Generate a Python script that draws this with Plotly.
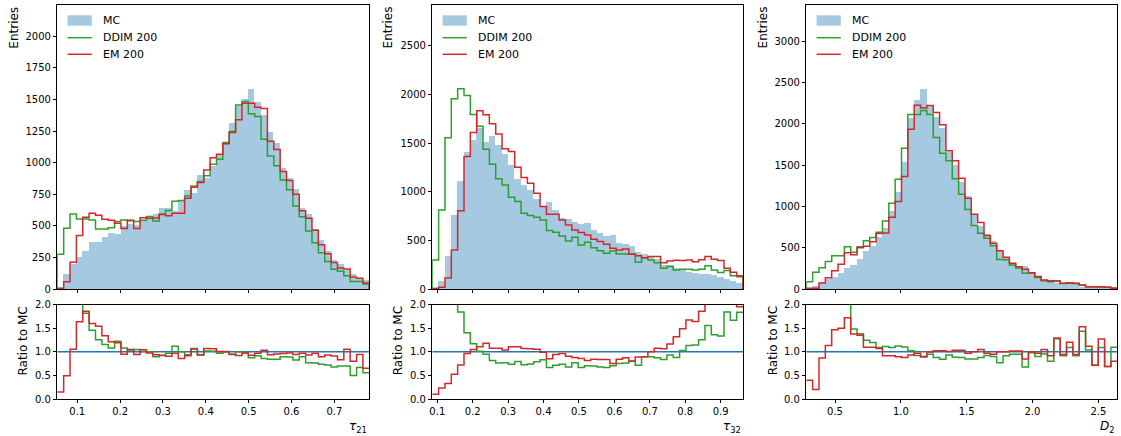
import numpy as np
import plotly.graph_objects as go

W, H = 1121, 436

# ---- histogram data: 49 equal-width bins per observable ----
tau21_range = (0.0534, 0.7815)
tau32_range = (0.0859, 0.9630)
d2_range = (0.282, 2.644)

mc_tau21 = [20, 118, 200, 258, 305, 375, 378, 412, 448, 436, 505, 520, 510, 540, 575,
            600, 640, 640, 620, 700, 785, 760, 905, 880, 975, 1060, 1150, 1315, 1455, 1510,
            1585, 1485, 1384, 1247, 1160, 964, 882, 793, 640, 600, 480, 390, 300, 230, 200,
            150, 120, 90, 72]
ddim_tau21 = [275, 481, 594, 555, 555, 547, 476, 476, 485, 534, 547, 540, 535, 545, 575,
              538, 594, 621, 695, 700, 737, 816, 851, 896, 988, 1028, 1160, 1247, 1456, 1485,
              1387, 1366, 1186, 1054, 975, 864, 785, 658, 573, 460, 367, 288, 217, 156, 140,
              105, 60, 60, 40]
em_tau21 = [3, 58, 211, 423, 568, 600, 584, 552, 545, 520, 480, 545, 480, 565, 560,
            562, 590, 580, 600, 600, 718, 806, 843, 943, 1040, 1067, 1150, 1240, 1340, 1470,
            1470, 1440, 1430, 1170, 1105, 930, 860, 750, 620, 560, 465, 350, 280, 210, 166,
            158, 96, 85, 47]

mc_tau32 = [20, 82, 343, 761, 1115, 1413, 1533, 1653, 1516, 1574, 1482, 1389, 1276, 1132, 1070,
            1019, 933, 854, 899, 813, 737, 727, 690, 676, 680, 607, 580, 549, 556, 477,
            470, 446, 384, 360, 333, 309, 254, 247, 223, 196, 178, 171, 161, 154, 144,
            127, 103, 82, 69]
ddim_tau32 = [298, 813, 1554, 1955, 2058, 1989, 1794, 1674, 1437, 1283, 1132, 1070, 943, 899, 779,
              755, 737, 710, 600, 583, 545, 494, 532, 453, 480, 425, 394, 367, 391, 360,
              360, 360, 274, 322, 298, 271, 213, 230, 196, 202, 202, 196, 202, 240, 196,
              170, 190, 137, 127]
em_tau32 = [2, 19, 113, 401, 803, 1362, 1609, 1832, 1790, 1698, 1592, 1441, 1413, 1252, 1146,
            1087, 984, 847, 768, 768, 710, 659, 607, 580, 556, 511, 487, 460, 418, 401,
            412, 357, 343, 322, 333, 333, 271, 288, 295, 292, 298, 281, 300, 333, 305,
            292, 213, 171, 135]

mc_d2 = [20, 45, 85, 120, 150, 200, 255, 300, 370, 470, 520, 630, 740, 950, 1181,
         1545, 2070, 2293, 2426, 2232, 2091, 1949, 1666, 1504, 1302, 1134, 906, 767, 667, 583,
         465, 384, 305, 266, 281, 198, 155, 104, 110, 75, 73, 64, 73, 32, 25,
         39, 22, 29, 10]
ddim_d2 = [89, 202, 259, 332, 404, 404, 513, 445, 513, 586, 623, 687, 825, 1039, 1330,
           1707, 2115, 2115, 2163, 2115, 1836, 1646, 1553, 1335, 1148, 964, 770, 675, 614, 525,
           358, 353, 290, 253, 191, 194, 140, 99, 88, 96, 67, 70, 67, 46, 26,
           28, 24, 20, 11]
em_d2 = [8, 9, 74, 136, 220, 300, 439, 414, 500, 517, 572, 674, 680, 870, 1060,
         1363, 1937, 2228, 2192, 2224, 2139, 1990, 1674, 1553, 1343, 1100, 906, 805, 647, 554,
         465, 384, 311, 271, 239, 198, 150, 109, 101, 97, 69, 77, 69, 49, 28,
         28, 28, 20, 8]

series_names = ["MC", "DDIM 200", "EM 200"]
x_titles = ["<i>τ</i><sub>21</sub>", "<i>τ</i><sub>32</sub>", "<i>D</i><sub>2</sub>"]
x_ticks = [[0.1, 0.2, 0.3, 0.4, 0.5, 0.6, 0.7],
           [0.1, 0.2, 0.3, 0.4, 0.5, 0.6, 0.7, 0.8, 0.9],
           [0.5, 1.0, 1.5, 2.0, 2.5]]
y_ticks_main = [[0, 250, 500, 750, 1000, 1250, 1500, 1750, 2000],
                [0, 500, 1000, 1500, 2000, 2500],
                [0, 500, 1000, 1500, 2000, 2500, 3000]]
y_ticks_ratio = [0.0, 0.5, 1.0, 1.5, 2.0]

panels = [
    dict(rng=tau21_range, mc=mc_tau21, ddim=ddim_tau21, em=em_tau21, ymax=2251),
    dict(rng=tau32_range, mc=mc_tau32, ddim=ddim_tau32, em=em_tau32, ymax=2922),
    dict(rng=d2_range, mc=mc_d2, ddim=ddim_d2, em=em_d2, ymax=3445),
]

# ---- styling ----
FONT = "DejaVu Sans"
MC_FILL = "rgba(31,119,180,0.4)"
GREEN = "#2ca02c"
RED = "#d62728"
BLUE = "#1f77b4"
LW = 1.5

# axes placement in pixels
lefts = [57.3, 432.3, 806.3]
rights = [369.3, 743.0, 1117.3]
main_top, main_bot = 4.7, 289.0
rat_top, rat_bot = 304.7, 399.0


def px_x(p):
    return p / W


def px_y(p):
    return 1 - p / H


def step_outline(edges, counts):
    xs = [edges[0]] + list(edges[:-1]) + [edges[-1]]
    ys = [0] + list(counts) + [0]
    return xs, ys


def step_ratio(edges, r):
    xs = list(edges[:-1]) + [edges[-1]]
    ys = list(r) + [r[-1]]
    return xs, ys


fig = go.Figure()
layout = dict(
    width=W, height=H,
    margin=dict(l=0, r=0, t=0, b=0),
    paper_bgcolor="white", plot_bgcolor="white",
    showlegend=False, bargap=0, barmode="overlay",
    font=dict(family=FONT, size=10, color="black"),
)
shapes = []
annotations = []

axis_common = dict(
    showline=True, mirror=True, linecolor="black", linewidth=0.8,
    ticks="outside", ticklen=3.5, tickwidth=0.8, tickcolor="black",
    showgrid=False, zeroline=False, automargin=False,
    tickfont=dict(family=FONT, size=10, color="black"),
)

for k, p in enumerate(panels):
    edges = np.linspace(p["rng"][0], p["rng"][1], len(p["mc"]) + 1)
    centers = 0.5 * (edges[:-1] + edges[1:])
    width = edges[1] - edges[0]
    mc = np.array(p["mc"], dtype=float)
    ddim = np.array(p["ddim"], dtype=float)
    em = np.array(p["em"], dtype=float)

    im, ir = 2 * k + 1, 2 * k + 2
    xm, ym = f"x{im}", f"y{im}"
    xr, yr = f"x{ir}", f"y{ir}"

    # main panel: MC filled histogram + generated step histograms
    fig.add_trace(go.Bar(x=centers, y=mc, width=width, marker=dict(color=MC_FILL, line=dict(width=0)),
                         name=series_names[0], xaxis=xm, yaxis=ym))
    gx, gy = step_outline(edges, ddim)
    fig.add_trace(go.Scatter(x=gx, y=gy, mode="lines", line=dict(color=GREEN, width=LW, shape="hv"),
                             name=series_names[1], xaxis=xm, yaxis=ym))
    ex, ey = step_outline(edges, em)
    fig.add_trace(go.Scatter(x=ex, y=ey, mode="lines", line=dict(color=RED, width=LW, shape="hv"),
                             name=series_names[2], xaxis=xm, yaxis=ym))

    # ratio panel
    fig.add_trace(go.Scatter(x=[edges[0], edges[-1]], y=[1, 1], mode="lines",
                             line=dict(color=BLUE, width=LW), xaxis=xr, yaxis=yr))
    rx, ry = step_ratio(edges, ddim / mc)
    fig.add_trace(go.Scatter(x=rx, y=ry, mode="lines", line=dict(color=GREEN, width=LW, shape="hv"),
                             xaxis=xr, yaxis=yr))
    rx, ry = step_ratio(edges, em / mc)
    fig.add_trace(go.Scatter(x=rx, y=ry, mode="lines", line=dict(color=RED, width=LW, shape="hv"),
                             xaxis=xr, yaxis=yr))

    xdom = [px_x(lefts[k]), px_x(rights[k])]
    sfx_m = "" if im == 1 else str(im)
    layout[f"xaxis{sfx_m}"] = dict(axis_common, domain=xdom, anchor=ym, range=[edges[0], edges[-1]],
                                   tickvals=x_ticks[k], showticklabels=False)
    layout[f"yaxis{sfx_m}"] = dict(axis_common, domain=[px_y(main_bot), px_y(main_top)], anchor=xm,
                                   range=[0, p["ymax"]], tickvals=y_ticks_main[k])
    layout[f"xaxis{ir}"] = dict(axis_common, domain=xdom, anchor=yr, range=[edges[0], edges[-1]],
                                tickvals=x_ticks[k], tickformat=".1f")
    layout[f"yaxis{ir}"] = dict(axis_common, domain=[px_y(rat_bot), px_y(rat_top)], anchor=xr,
                                range=[0, 2], tickvals=y_ticks_ratio, tickformat=".1f")

    # legend (upper left of the main panel)
    L = lefts[k]
    shapes.append(dict(type="rect", xref="paper", yref="paper",
                       x0=px_x(L + 10.3), x1=px_x(L + 34.5), y0=px_y(25.7), y1=px_y(15.3),
                       fillcolor=MC_FILL, line=dict(width=0)))
    for yy, col in ((37.7, GREEN), (54.3, RED)):
        shapes.append(dict(type="line", xref="paper", yref="paper",
                           x0=px_x(L + 10.3), x1=px_x(L + 34.5), y0=px_y(yy), y1=px_y(yy),
                           line=dict(color=col, width=LW)))
    for yy, name in zip((20.5, 37.7, 54.3), series_names):
        annotations.append(dict(text=name, xref="paper", yref="paper", x=px_x(L + 43.3), y=px_y(yy),
                                xanchor="left", yanchor="middle", showarrow=False,
                                font=dict(family=FONT, size=11, color="black")))

    # axis titles
    ent_x = [14.0, 387.7, 762.7][k]
    rat_x = [23.3, 398.0, 773.0][k]
    annotations.append(dict(text="Entries", xref="paper", yref="paper", x=px_x(ent_x), y=px_y(main_top),
                            xanchor="center", yanchor="top", textangle=-90, showarrow=False,
                            font=dict(family=FONT, size=12, color="black")))
    annotations.append(dict(text="Ratio to MC", xref="paper", yref="paper", x=px_x(rat_x), y=px_y(rat_top),
                            xanchor="center", yanchor="top", textangle=-90, showarrow=False,
                            font=dict(family=FONT, size=12, color="black")))
    annotations.append(dict(text=x_titles[k], xref="paper", yref="paper", x=px_x(rights[k]), y=px_y(417),
                            xanchor="right", yanchor="top", showarrow=False,
                            font=dict(family=FONT, size=12, color="black")))

layout["shapes"] = shapes
layout["annotations"] = annotations
fig.update_layout(**layout)
fig.write_html("out.html")
